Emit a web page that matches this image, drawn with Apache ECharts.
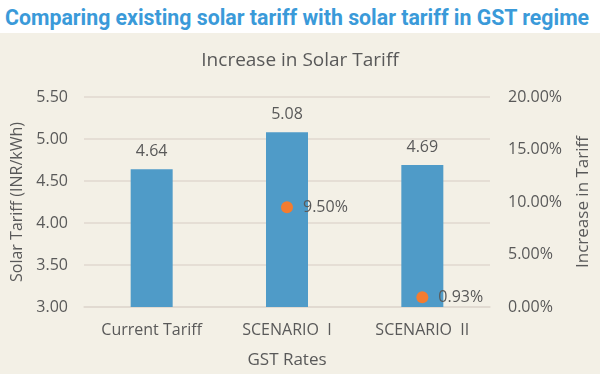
<!DOCTYPE html>
<html><head><meta charset="utf-8">
<script src="https://cdn.jsdelivr.net/npm/echarts@6/dist/echarts.min.js"></script>
<style>html,body{margin:0;padding:0;background:#fff}#wrap{position:relative;width:600px;height:374px}
#hdr{position:absolute;left:0;top:0;width:600px;height:33px;background:#fff;font-family:Roboto,Arial,sans-serif;font-weight:bold;font-size:21.3px;color:#3a9ad9;line-height:35px;padding-left:5px;box-sizing:border-box;white-space:nowrap}
#c{position:absolute;left:0;top:33px;width:600px;height:341px;background:#f3f0e6}</style>
</head><body><div id="wrap"><div id="hdr">Comparing existing solar tariff with solar tariff in GST regime</div><div id="c"></div></div>
<script>
const categories = ['Current Tariff', 'SCENARIO  I', 'SCENARIO  II'];
const tariffValues = [4.64, 5.08, 4.69];
const increaseValues = ['-', 0.095, 0.0093];
const leftTicks = { min: 3, max: 5.5, interval: 0.5 };
const rightTicks = { min: 0, max: 0.2, interval: 0.05 };

const txt = '#595959';
const font = 'Open Sans';
const chart = echarts.init(document.getElementById('c'));
chart.setOption({
  backgroundColor: '#f3f0e6',
  animation: false,
  title: { text: 'Increase in Solar Tariff', left: 'center', top: 13,
    textStyle: { color: txt, fontFamily: font, fontWeight: 'normal', fontSize: 19 } },
  grid: { left: 84, right: 106, top: 64, bottom: 66 },
  xAxis: {
    type: 'category', data: categories,
    name: 'GST Rates', nameLocation: 'middle', nameGap: 45,
    nameTextStyle: { color: txt, fontFamily: font, fontSize: 17 },
    axisLine: { show: true, lineStyle: { color: '#e0d9cf', width: 1.5 } },
    axisTick: { show: false },
    axisLabel: { color: txt, fontFamily: font, fontSize: 16, margin: 15 }
  },
  yAxis: [
    { type: 'value', min: leftTicks.min, max: leftTicks.max, interval: leftTicks.interval,
      name: 'Solar Tariff (INR/kWh)', nameLocation: 'middle', nameGap: 58, nameRotate: 90,
      nameTextStyle: { color: txt, fontFamily: font, fontSize: 16 },
      axisLine: { show: false }, axisTick: { show: false },
      axisLabel: { color: txt, fontFamily: font, fontSize: 16, margin: 16, formatter: v => v.toFixed(2) },
      splitLine: { lineStyle: { color: '#e0d9cf', width: 1.5 } } },
    { type: 'value', min: rightTicks.min, max: rightTicks.max, interval: rightTicks.interval,
      name: 'Increase in Tariff', nameLocation: 'middle', nameGap: 85, nameRotate: 90,
      nameTextStyle: { color: txt, fontFamily: font, fontSize: 17 },
      axisLine: { show: false }, axisTick: { show: false },
      axisLabel: { color: txt, fontFamily: font, fontSize: 16, margin: 18, formatter: v => (v * 100).toFixed(2) + '%' },
      splitLine: { show: false } }
  ],
  series: [
    { type: 'bar', data: tariffValues, yAxisIndex: 0, barWidth: 42,
      itemStyle: { color: '#4f9bc8' },
      label: { show: true, position: 'top', distance: 10, color: txt, fontFamily: font, fontSize: 16, formatter: p => p.value.toFixed(2) } },
    { type: 'scatter', data: increaseValues, yAxisIndex: 1, symbolSize: 12,
      itemStyle: { color: '#f47c30', opacity: 1 },
      label: { show: true, position: 'right', distance: 10, color: txt, fontFamily: font, fontSize: 16, formatter: p => (p.value * 100).toFixed(2) + '%' } }
  ]
});
</script></body></html>
